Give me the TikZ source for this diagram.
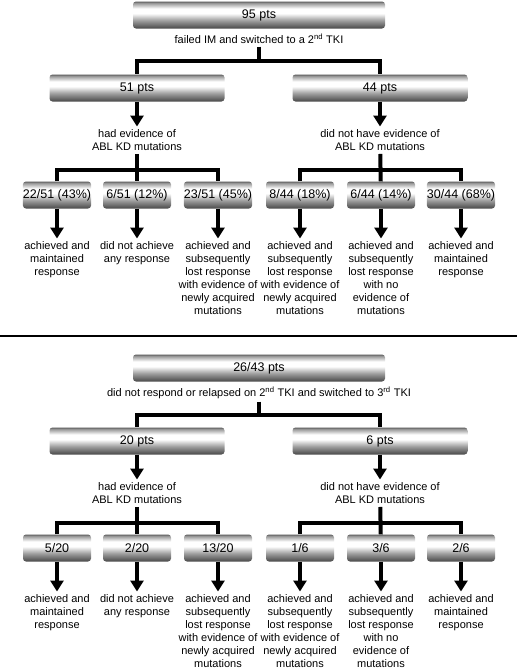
\documentclass[tikz,border=0pt]{standalone}
\usepackage{fontspec}
\setmainfont{Liberation Sans}
\usetikzlibrary{arrows.meta}
\pgfdeclareverticalshading{metal}{100bp}{color(0bp)=(black!72); color(25bp)=(black!72); color(40bp)=(black!38); color(53bp)=(white); color(62bp)=(white); color(72bp)=(black!40); color(75bp)=(black!62); color(100bp)=(black!62)}
\tikzset{
    >=Stealth,
    ptsbox/.style={rectangle, rounded corners=3pt, shade, shading=metal, inner sep=0pt, minimum height=27pt, font=\fontsize{12.5}{14}\selectfont},
    toppts/.style={ptsbox, minimum width=252pt},
    midpts/.style={ptsbox, minimum width=175pt},
    subpts/.style={ptsbox, minimum width=68pt},
    note/.style={anchor=north, align=center, inner sep=3pt, font=\fontsize{11}{13}\selectfont},
    bar/.style={line width=4pt, line join=miter},
    down/.style={line width=4pt, -{Triangle[width=13pt,length=11pt]}}
}
\begin{document}
\begin{tikzpicture}[x=1pt, y=-1pt]
    \useasboundingbox (0,0) rectangle (520,672);

    \node[toppts] (n95) at (259,15) {95 pts};
    \node[note] (fail) at (259,30.5) {failed IM and switched to a 2\textsuperscript{nd} TKI};
    \node[midpts] (n51) at (137,88) {51 pts};
    \node[midpts] (n44) at (380,88) {44 pts};
    \coordinate (j95) at (259,61);
    \draw[bar] (fail) -- (j95) -| (n51);
    \draw[bar] (j95) -| (n44);

    \node[note] (had51) at (137,126.5) {had evidence of\\ABL KD mutations};
    \node[note] (not44) at (380,126.5) {did not have evidence of\\ABL KD mutations};
    \draw[down] (n51) -- (had51);
    \draw[down] (n44) -- (not44);

    \node[subpts] (n22) at (57,195) {22/51 (43\%)};
    \node[subpts] (n6a) at (137,195) {6/51 (12\%)};
    \node[subpts] (n23) at (218,195) {23/51 (45\%)};
    \node[subpts] (n8) at (300,195) {8/44 (18\%)};
    \node[subpts] (n6b) at (381,195) {6/44 (14\%)};
    \node[subpts] (n30) at (461,195) {30/44 (68\%)};
    \coordinate (j51) at (137,170);
    \coordinate (j44) at (381,170);
    \draw[bar] (had51) -- (n6a);
    \draw[bar] (n22) |- (j51) -| (n23);
    \draw[bar] (not44) -- (n6b);
    \draw[bar] (n8) |- (j44) -| (n30);

    \node[note] (o22) at (57,238.5) {achieved and\\maintained\\response};
    \node[note] (o6a) at (137,238.5) {did not achieve\\any response};
    \node[note] (o23) at (218,238.5) {achieved and\\subsequently\\lost response\\with evidence of\\newly acquired\\mutations};
    \node[note] (o8) at (300,238.5) {achieved and\\subsequently\\lost response\\with evidence of\\newly acquired\\mutations};
    \node[note] (o6b) at (381,238.5) {achieved and\\subsequently\\lost response\\with no\\evidence of\\mutations};
    \node[note] (o30) at (461,238.5) {achieved and\\maintained\\response};
    \draw[down] (n22) -- (o22);
    \draw[down] (n6a) -- (o6a);
    \draw[down] (n23) -- (o23);
    \draw[down] (n8) -- (o8);
    \draw[down] (n6b) -- (o6b);
    \draw[down] (n30) -- (o30);

    \coordinate (sepL) at (0,336);
    \coordinate (sepR) at (517,336);
    \draw[line width=2.5pt] (sepL) -- (sepR);

    \node[toppts] (n26) at (259,368) {26/43 pts};
    \node[note] (relapse) at (259,383.5) {did not respond or relapsed on 2\textsuperscript{nd} TKI and switched to 3\textsuperscript{rd} TKI};
    \node[midpts] (n20) at (137,441) {20 pts};
    \node[midpts] (n6) at (380,441) {6 pts};
    \coordinate (j26) at (259,415);
    \draw[bar] (relapse) -- (j26) -| (n20);
    \draw[bar] (j26) -| (n6);

    \node[note] (had20) at (137,479.5) {had evidence of\\ABL KD mutations};
    \node[note] (not6) at (380,479.5) {did not have evidence of\\ABL KD mutations};
    \draw[down] (n20) -- (had20);
    \draw[down] (n6) -- (not6);

    \node[subpts] (n5) at (57,548) {5/20};
    \node[subpts] (n2) at (137,548) {2/20};
    \node[subpts] (n13) at (218,548) {13/20};
    \node[subpts] (n1) at (300,548) {1/6};
    \node[subpts] (n3) at (381,548) {3/6};
    \node[subpts] (n2b) at (461,548) {2/6};
    \coordinate (j20) at (137,523);
    \coordinate (j6) at (381,523);
    \draw[bar] (had20) -- (n2);
    \draw[bar] (n5) |- (j20) -| (n13);
    \draw[bar] (not6) -- (n3);
    \draw[bar] (n1) |- (j6) -| (n2b);

    \node[note] (o5) at (57,591.5) {achieved and\\maintained\\response};
    \node[note] (o2) at (137,591.5) {did not achieve\\any response};
    \node[note] (o13) at (218,591.5) {achieved and\\subsequently\\lost response\\with evidence of\\newly acquired\\mutations};
    \node[note] (o1) at (300,591.5) {achieved and\\subsequently\\lost response\\with evidence of\\newly acquired\\mutations};
    \node[note] (o3) at (381,591.5) {achieved and\\subsequently\\lost response\\with no\\evidence of\\mutations};
    \node[note] (o2b) at (461,591.5) {achieved and\\maintained\\response};
    \draw[down] (n5) -- (o5);
    \draw[down] (n2) -- (o2);
    \draw[down] (n13) -- (o13);
    \draw[down] (n1) -- (o1);
    \draw[down] (n3) -- (o3);
    \draw[down] (n2b) -- (o2b);
\end{tikzpicture}
\end{document}
